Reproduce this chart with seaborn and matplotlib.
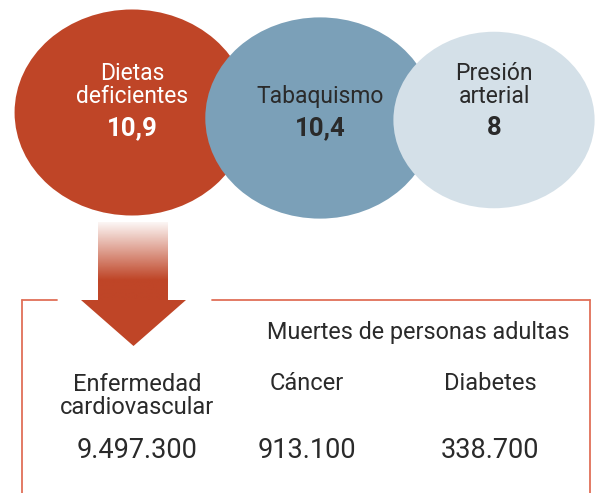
import numpy as np
import pandas as pd
import seaborn as sns
import matplotlib.pyplot as plt
from matplotlib.path import Path
from matplotlib.transforms import Affine2D
from matplotlib.patches import Polygon
from matplotlib.colors import to_rgb

# Risk factors (bubbles)
factors = ['Dietas\ndeficientes', 'Tabaquismo', 'Presión\narterial']
factor_values = [10.9, 10.4, 8]
factor_labels = ['10,9', '10,4', '8']

# Deaths of adults
causes = ['Enfermedad\ncardiovascular', 'Cáncer', 'Diabetes']
deaths = ['9.497.300', '913.100', '338.700']
box_title = 'Muertes de personas adultas'

RED = '#BF4527'
BLUE = '#7BA0B8'
LIGHT = '#D4E0E8'
LINE = '#E07058'
DARK = '#2A2A2A'

sns.set_theme(style='white')
plt.rcParams['font.family'] = ['Roboto', 'DejaVu Sans']

fig = plt.figure(figsize=(6, 4.93), dpi=100)
ax = fig.add_axes([0, 0, 1, 1])

# bubbles: area proportional to value, slightly stretched horizontally
STRETCH = 1.14
K = 31.2  # px per sqrt(unit)
ellipse = Path.unit_circle().transformed(Affine2D().scale(STRETCH, 1))
df = pd.DataFrame({
    'factor': factors,
    'value': factor_values,
    'x': [132, 320, 494],
    'y': [112.5, 118, 120],
})
df['s'] = (2 * STRETCH * K * np.sqrt(df['value']) * 72 / 100) ** 2
sns.scatterplot(data=df, x='x', y='y', hue='factor',
                palette=dict(zip(factors, [RED, BLUE, LIGHT])),
                s=df['s'].values, marker=ellipse, linewidth=0,
                alpha=1, legend=False, ax=ax)

txt_colors = ['white', DARK, DARK]
for (_, row), lab, c in zip(df.iterrows(), factor_labels, txt_colors):
    if '\n' in row['factor']:
        ax.text(row['x'], 85, row['factor'], ha='center', va='center',
                fontsize=16.5, color=c, linespacing=1.0)
    else:
        ax.text(row['x'], 97, row['factor'], ha='center', va='center',
                fontsize=16.5, color=c)
    ax.text(row['x'], 128, lab, ha='center', va='center', fontsize=18.5,
            fontweight='bold', color=c)

# arrow with faded stem
r, g, b = to_rgb(RED)
n = 100
alpha = np.clip(np.linspace(0.05, 1.35, n), 0, 1)
grad = np.zeros((n, 1, 4))
grad[:, 0, 0], grad[:, 0, 1], grad[:, 0, 2] = r, g, b
grad[:, 0, 3] = alpha
ax.imshow(grad, extent=(98, 168, 301, 222), origin='upper',
          aspect='auto', interpolation='bilinear', zorder=2)
ax.add_patch(Polygon([(81, 300), (186, 300), (133.5, 346)],
                     closed=True, color=RED, lw=0, zorder=3))

# box
lw = 1.3
ax.plot([22, 22], [300, 500], color=LINE, lw=lw)
ax.plot([22, 57], [300, 300], color=LINE, lw=lw)
ax.plot([212, 590], [300, 300], color=LINE, lw=lw)
ax.plot([590, 590], [300, 500], color=LINE, lw=lw)

ax.text(418, 333, box_title, ha='center', va='center', fontsize=16.8, color=DARK)
cause_x = [137, 307, 490]
for x, cause, d in zip(cause_x, causes, deaths):
    y = 396 if '\n' in cause else 383
    ax.text(x, y, cause, ha='center', va='center', fontsize=17,
            color=DARK, linespacing=1.05)
    ax.text(x, 451, d, ha='center', va='center', fontsize=19.5, color=DARK)

ax.set_xlim(0, 600)
ax.set_ylim(493, 0)
ax.axis('off')

fig.savefig('out.png', dpi=100)
